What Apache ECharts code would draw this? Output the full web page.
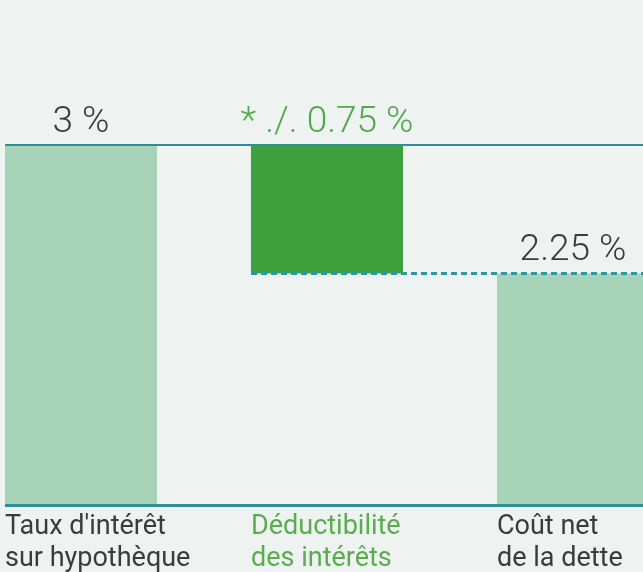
<!DOCTYPE html>
<html>
<head>
<meta charset="utf-8">
<script src="https://cdn.jsdelivr.net/npm/echarts@6/dist/echarts.min.js"></script>
<style>
  html, body { margin: 0; padding: 0; background: #eef3f1; }
  #chart { width: 643px; height: 572px; }
</style>
</head>
<body>
<div id="chart"></div>
<script>
// données du graphique
var categories = ["Taux d'intérêt\nsur hypothèque", "Déductibilité\ndes intérêts", "Coût net\nde la dette"];
var barValues = [3, 0.75, 2.25];
var labelPrefix = ['', '* ./. ', ''];

// styles
var barColors = ['#a7d3b8', '#3da23d', '#a7d3b8'];
var valueLabelColors = ['#3b3b3b', '#4fa84a', '#3b3b3b'];
var catLabelColors = ['#3b3b3b', '#5aad4e', '#3b3b3b'];
var lineColor = '#2f8f99';
var axisMin = 0.9;   // axe tronqué comme dans l'original
var axisMax = 3;

// base invisible de la cascade
var barBase = barValues.map(function (v, i) {
    return i === 1 ? barValues[0] - barValues[1] : 0;
});

var myChart = echarts.init(document.getElementById('chart'), null, { renderer: 'canvas' });

var option = {
    backgroundColor: '#eef3f1',
    animation: false,
    grid: [
        { left: -42, right: -53, top: 145, bottom: 67, outerBoundsMode: 'none', containLabel: false },
        { left: -118, right: 23, top: 145, bottom: 67, outerBoundsMode: 'none', containLabel: false }
    ],
    xAxis: [
        {
            type: 'category', gridIndex: 0, data: categories,
            axisLine: { show: false }, axisTick: { show: false }, axisLabel: { show: false }
        },
        {
            type: 'category', gridIndex: 1, data: categories,
            axisLine: { show: false }, axisTick: { show: false },
            axisLabel: {
                align: 'left',
                margin: 6,
                fontFamily: 'Roboto',
                fontSize: 27,
                lineHeight: 32,
                interval: 0,
                color: function (value, index) { return catLabelColors[index]; }
            }
        }
    ],
    yAxis: [
        { type: 'value', gridIndex: 0, min: axisMin, max: axisMax, show: false },
        { type: 'value', gridIndex: 1, min: axisMin, max: axisMax, show: false }
    ],
    series: [
        {
            type: 'bar', name: 'base', stack: 'w',
            xAxisIndex: 0, yAxisIndex: 0,
            barWidth: 152,
            itemStyle: { color: 'transparent' },
            data: barBase
        },
        {
            type: 'bar', name: 'valeur', stack: 'w',
            xAxisIndex: 0, yAxisIndex: 0,
            barWidth: 152,
            data: barValues.map(function (v, i) {
                return { value: v, itemStyle: { color: barColors[i] }, label: { color: valueLabelColors[i] } };
            }),
            label: {
                show: true,
                position: 'top',
                distance: 4,
                fontFamily: 'Roboto',
                fontWeight: 300,
                fontSize: 37,
                formatter: function (p) { return labelPrefix[p.dataIndex] + p.value + ' %'; }
            }
        },
        {
            // lignes de liaison
            type: 'line', name: 'liaisons',
            xAxisIndex: 1, yAxisIndex: 1,
            data: [],
            markLine: {
                silent: true,
                symbol: ['none', 'none'],
                label: { show: false },
                data: [
                    [
                        { coord: [0, barValues[0]], lineStyle: { color: lineColor, width: 2, type: 'solid' } },
                        { coord: [2, barValues[0]], x: '100%' }
                    ],
                    [
                        { coord: [1, barValues[2]], lineStyle: { color: '#2a99a2', width: 3, type: [6, 4] } },
                        { coord: [2, barValues[2]], x: '100%' }
                    ],
                    [
                        { coord: [0, axisMin], lineStyle: { color: lineColor, width: 3, type: 'solid' } },
                        { coord: [2, axisMin], x: '100%' }
                    ]
                ]
            }
        }
    ]
};
myChart.setOption(option);
</script>
</body>
</html>
